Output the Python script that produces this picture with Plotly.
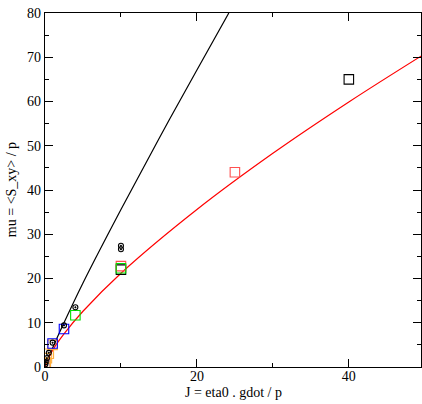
import plotly.graph_objects as go

# Fitted curves
black_line_j = [0, 1, 2.5, 5, 10, 15, 20, 24.2]
black_line_mu = [0, 4.3, 10.0, 19.0, 35.6, 51.6, 67.1, 80.0]
red_line_j = [0, 1, 2.5, 5, 10, 20, 30, 40, 50]
red_line_mu = [0, 3.8, 7.5, 12.6, 21.2, 35.6, 48.3, 59.9, 70.8]

# Data points
black_sq_j = [10, 40]
black_sq_mu = [22.0, 65.0]
red_sq_j = [10, 25]
red_sq_mu = [22.8, 44.0]
green_sq_j = [4, 10]
green_sq_mu = [11.7, 22.3]
blue_sq_j = [1, 2.5]
blue_sq_mu = [5.3, 8.6]
orange_sq_j = [0.1, 0.25, 0.5, 1.0]
orange_sq_mu = [1.0, 2.0, 3.0, 5.0]
brown_sq_j = [0.02, 0.05, 0.1]
brown_sq_mu = [0.2, 0.5, 0.9]
black_circ_j = [0.05, 0.1, 0.25, 0.5, 1.0, 2.5, 4, 10, 10]
black_circ_mu = [0.6, 1.1, 2.0, 3.2, 5.5, 9.4, 13.5, 26.6, 27.4]

x_title = "J = eta0 . gdot / p"
y_title = "mu = <S_xy> / p"

fig = go.Figure()
fig.add_trace(go.Scatter(x=black_line_j, y=black_line_mu, mode="lines",
                         line=dict(color="black", width=1.2), line_shape="spline"))
fig.add_trace(go.Scatter(x=red_line_j, y=red_line_mu, mode="lines",
                         line=dict(color="red", width=1.2), line_shape="spline"))

def sq(x, y, c):
    fig.add_trace(go.Scatter(x=x, y=y, mode="markers",
                             marker=dict(symbol="square-open", size=9.5,
                                         color=c, line=dict(width=1.1, color=c))))

sq(brown_sq_j, brown_sq_mu, "#c48a8a")
sq(orange_sq_j, orange_sq_mu, "#ffb040")
sq(blue_sq_j, blue_sq_mu, "blue")
sq(black_sq_j, black_sq_mu, "black")
sq(red_sq_j, red_sq_mu, "#ff5050")
sq(green_sq_j, green_sq_mu, "#00e000")
fig.add_trace(go.Scatter(x=black_circ_j, y=black_circ_mu, mode="markers",
                         marker=dict(symbol="circle-open-dot", size=5, color="black",
                                     line=dict(width=1.1, color="black"))))

font = dict(family="Liberation Serif", size=14, color="black")
title_font = dict(family="Liberation Serif", size=14, color="black")
axis_common = dict(showline=True, linecolor="black", linewidth=1.2, mirror="ticks",
                   ticks="inside", ticklen=8, tickcolor="black", showgrid=False,
                   zeroline=False, tickfont=font, automargin=False,
                   ticklabeloverflow="allow")
fig.update_xaxes(range=[0, 49.5], dtick=20, tick0=0, ticklabelstandoff=-4,
                 minor=dict(ticks="inside", ticklen=4, dtick=10, tickcolor="black"),
                 **axis_common)
fig.update_yaxes(range=[0, 80], dtick=10, tick0=0,
                 minor=dict(ticks="inside", ticklen=4, dtick=5, tickcolor="black"),
                 **axis_common)
fig.add_annotation(text=x_title, xref="paper", yref="paper", x=0.5, y=-0.072,
                   xanchor="center", yanchor="middle", showarrow=False, font=title_font)
fig.add_annotation(text=y_title, xref="paper", yref="paper", x=-0.09, y=0.5,
                   xanchor="center", yanchor="middle", showarrow=False, textangle=-90,
                   font=title_font)
fig.update_layout(width=422, height=404, showlegend=False,
                  margin=dict(l=44.5, r=1, t=12.5, b=37),
                  plot_bgcolor="white", paper_bgcolor="white")
fig.write_html("out.html", config={"displayModeBar": False},
               post_script="document.body.style.margin='0';document.body.style.overflow='hidden';")
